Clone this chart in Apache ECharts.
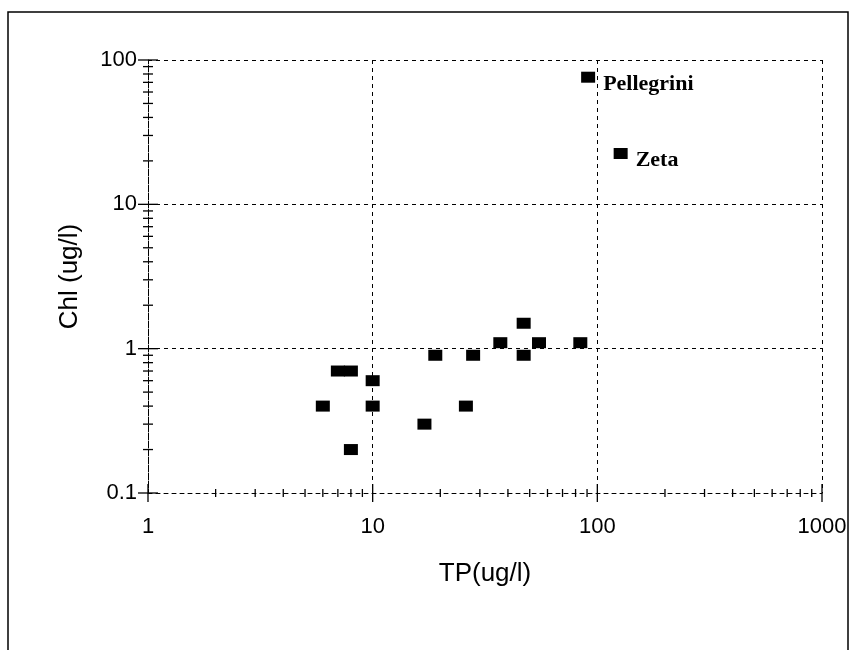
<!DOCTYPE html>
<html>
<head>
<meta charset="utf-8">
<script src="https://cdn.jsdelivr.net/npm/echarts@6/dist/echarts.min.js"></script>
<style>html,body{margin:0;padding:0;background:#fff}#c{width:857px;height:650px}</style>
</head>
<body>
<div id="c"></div>
<script>
// Data
var tp  = [6, 7, 8, 8, 10, 10, 17, 19, 26, 28, 37, 47, 47, 55, 84, 91, 127];
var chl = [0.4, 0.7, 0.7, 0.2, 0.6, 0.4, 0.3, 0.9, 0.4, 0.9, 1.1, 1.5, 0.9, 1.1, 1.1, 76, 22.5];
var names = ['', '', '', '', '', '', '', '', '', '', '', '', '', '', '', 'Pellegrini', 'Zeta'];
var xDecades = [1, 10, 100, 1000];
var yDecades = [0.1, 1, 10, 100];
var minorMultipliers = [2, 3, 4, 5, 6, 7, 8, 9];

var points = tp.map(function (v, i) { return { value: [v, chl[i]], name: names[i] }; });

// tick marks: [x, y, halfLength, orientation(0 = on y axis, 1 = on x axis)]
var ticks = [];
xDecades.forEach(function (d, i) {
  ticks.push([d, 0.1, 9, 1]);
  if (i < xDecades.length - 1) minorMultipliers.forEach(function (m) { ticks.push([d * m, 0.1, 4, 1]); });
});
yDecades.forEach(function (d, i) {
  ticks.push([1, d, 10, 0]);
  if (i < yDecades.length - 1) minorMultipliers.forEach(function (m) { ticks.push([1, d * m, 5, 0]); });
});

var chart = echarts.init(document.getElementById('c'));
var font = 'Liberation Sans, Arial, sans-serif';
chart.setOption({
  backgroundColor: '#fff',
  animation: false,
  graphic: [{
    type: 'rect', shape: { x: 8, y: 12, width: 840, height: 660 },
    style: { fill: 'none', stroke: '#000', lineWidth: 1.5 }, silent: true, z: -1
  }],
  grid: { left: 148, right: 35, top: 60, bottom: 157 },
  xAxis: {
    type: 'log', logBase: 10, min: 1, max: 1000,
    name: 'TP(ug/l)', nameLocation: 'middle', nameGap: 68,
    nameTextStyle: { color: '#000', fontSize: 26, fontFamily: font },
    axisLine: { show: true, lineStyle: { color: '#000', type: [4, 4], width: 1 } },
    axisTick: { show: false },
    axisLabel: { color: '#000', fontSize: 22, fontFamily: font, margin: 23,
      formatter: function (v) { return String(Math.round(v)); } },
    splitLine: { show: true, lineStyle: { color: '#000', type: [4, 4], width: 1 } },
    minorTick: { show: false }, minorSplitLine: { show: false }
  },
  yAxis: {
    type: 'log', logBase: 10, min: 0.1, max: 100,
    name: 'Chl (ug/l)', nameLocation: 'middle', nameGap: 65,
    nameTextStyle: { color: '#000', fontSize: 26, fontFamily: font },
    axisLine: { show: true, lineStyle: { color: '#000', type: [4, 4], width: 1 } },
    axisTick: { show: false },
    axisLabel: { color: '#000', fontSize: 22, fontFamily: font, margin: 11,
      formatter: function (v) { return v < 1 ? v.toFixed(1) : String(Math.round(v)); } },
    splitLine: { show: true, lineStyle: { color: '#000', type: [4, 4], width: 1 } }
  },
  series: [{
    type: 'custom',
    data: ticks,
    silent: true,
    clip: false,
    z: 3,
    renderItem: function (params, api) {
      var p = api.coord([api.value(0), api.value(1)]);
      var h = api.value(2);
      var vert = api.value(3) === 1;
      return {
        type: 'line',
        shape: vert ? { x1: p[0], y1: p[1] - h, x2: p[0], y2: p[1] + h }
                    : { x1: p[0] - h, y1: p[1], x2: p[0] + h, y2: p[1] },
        style: { stroke: '#000', lineWidth: 1.3 }
      };
    }
  }, {
    type: 'scatter',
    data: points,
    symbol: 'rect',
    symbolSize: [14, 11],
    itemStyle: { color: '#000', opacity: 1 },
    z: 5,
    label: {
      show: true,
      position: 'right',
      distance: 8,
      formatter: function (p) { return p.name; },
      color: '#000',
      fontFamily: 'Liberation Serif, Times New Roman, serif',
      fontWeight: 'bold',
      fontSize: 22,
      offset: [0, 7]
    }
  }]
});
</script>
</body>
</html>
